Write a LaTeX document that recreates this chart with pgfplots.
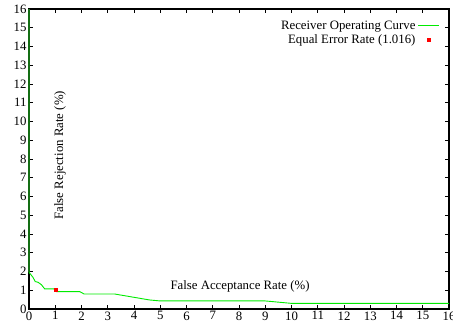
\documentclass[border=0pt]{standalone}
\usepackage{fontspec}
\setmainfont{Liberation Serif}
\usepackage{pgfplots}
\pgfplotsset{compat=1.18}
\definecolor{roc}{RGB}{0,235,0}
\definecolor{rocdark}{RGB}{20,110,20}
\begin{document}
\begin{tikzpicture}
\begin{axis}[
  scale only axis, width=420pt, height=300pt,
  xmin=0, xmax=16, ymin=0, ymax=16,
  xtick={0,...,16}, ytick={0,...,16},
  tick align=inside, major tick length=4pt,
  tick style={black, line width=0.6pt},
  axis line style={black, line width=1.1pt},
  font=\fontsize{12.8}{14}\selectfont,
  ticklabel style={font=\fontsize{12.8}{14}\selectfont},
  /pgf/number format/assume math mode=true,
  xticklabel style={yshift=1pt},
  yticklabel style={xshift=1pt},
  legend style={draw=white, fill=white, at={(0.986,0.975)}, anchor=north east,
    font=\fontsize{12.8}{14}\selectfont, row sep=0pt},
  legend cell align=right,
  legend plot pos=right,
  clip=false,
]
\addlegendimage{legend image code/.code={\draw[roc, line width=1.5pt] (0pt,0pt) -- (21pt,0pt);}}
\addlegendentry{Receiver Operating Curve}
\addlegendimage{legend image code/.code={\fill[red] (9pt,-1.4pt) rectangle (11.8pt,1.4pt);}}
\addlegendentry{Equal Error Rate (1.016)}
\addplot[color=roc, line width=0.9pt, forget plot] coordinates {
(0,1.96) (0.15,1.69) (0.24,1.46) (0.34,1.43) (0.47,1.30) (0.6,1.07) (0.95,1.07)
(1.04,0.93) (1.93,0.93) (2.1,0.8) (3.26,0.8) (4.6,0.48) (5.0,0.43) (9.0,0.43) (10.0,0.3) (16,0.3)
};
\addplot[only marks, mark=square*, mark size=1.4pt, red, forget plot]
  coordinates {(1.016,1.016)};
\addplot[color=rocdark, line width=1.1pt, forget plot] coordinates {(0,16) (0,1.96)};
\node[rotate=90] at (axis cs:1.18,8.2) {False Rejection Rate (\%)};
\node at (axis cs:8.04,1.23) {False Acceptance Rate (\%)};
\end{axis}
\pgfresetboundingbox
\path (-29pt,-15pt) rectangle (424pt,309pt);
\end{tikzpicture}
\end{document}
